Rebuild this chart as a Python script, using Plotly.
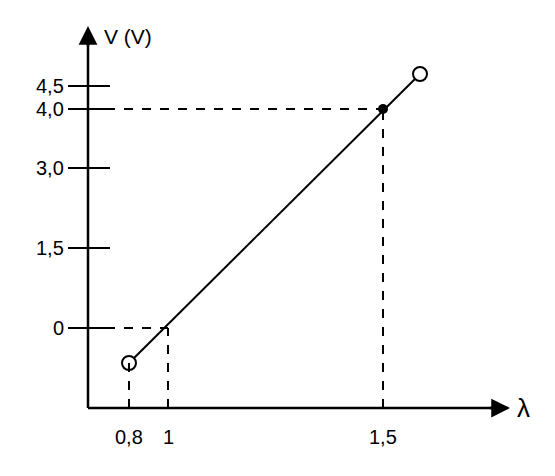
import plotly.graph_objects as go

# schematic positions (drawing units, origin at axes corner)
y_labels = ["0", "1,5", "3,0", "4,0", "4,5"]
y_pos = [80, 160, 240, 299, 322]
x_labels = ["0,8", "1", "1,5"]
x_pos = [41, 80, 295]

# line end points: open circles at ends, filled dot at (1,5 ; 4,0)
line_x = [41, 332]
line_y = [45, 334]
dot_x, dot_y = 295, 299

fig = go.Figure()
fig.add_trace(go.Scatter(x=line_x, y=line_y, mode="lines",
                         line=dict(color="black", width=2)))
fig.add_trace(go.Scatter(x=line_x, y=line_y, mode="markers",
                         marker=dict(color="white", size=14, line=dict(color="black", width=2))))
fig.add_trace(go.Scatter(x=[dot_x], y=[dot_y], mode="markers",
                         marker=dict(color="black", size=10)))

dash = dict(color="black", width=2, dash="dash")
shapes = [
    dict(type="line", x0=0, y0=80, x1=80, y1=80, line=dash),
    dict(type="line", x0=80, y0=0, x1=80, y1=80, line=dash),
    dict(type="line", x0=41, y0=0, x1=41, y1=45, line=dash),
    dict(type="line", x0=0, y0=dot_y, x1=dot_x, y1=dot_y, line=dash),
    dict(type="line", x0=dot_x, y0=0, x1=dot_x, y1=dot_y, line=dash),
    dict(type="line", x0=0, y0=0, x1=420, y1=0, line=dict(color="black", width=2.5)),
    dict(type="line", x0=0, y0=0, x1=0, y1=370, line=dict(color="black", width=2.5)),
]
for yp in y_pos:
    shapes.append(dict(type="line", x0=-20, y0=yp, x1=22, y1=yp, line=dict(color="black", width=2)))

ann = []
for lab, yp in zip(y_labels, y_pos):
    ann.append(dict(x=-22, y=yp, text=lab, showarrow=False, xanchor="right",
                    yanchor="middle", font=dict(size=20)))
for lab, xp in zip(x_labels, x_pos):
    ann.append(dict(x=xp, y=-16, text=lab, showarrow=False, yanchor="top",
                    font=dict(size=20)))
# axis arrows
ann.append(dict(x=422, y=0, ax=400, ay=0, axref="x", ayref="y", text="",
                showarrow=True, arrowhead=2, arrowsize=1.5, arrowwidth=2.5,
                arrowcolor="black"))
ann.append(dict(x=0, y=382, ax=0, ay=360, axref="x", ayref="y", text="",
                showarrow=True, arrowhead=2, arrowsize=1.5, arrowwidth=2.5,
                arrowcolor="black"))
ann.append(dict(x=14, y=372, text="V (V)", showarrow=False, xanchor="left",
                font=dict(size=21)))
ann.append(dict(x=427, y=0, text="λ", showarrow=False, xanchor="left",
                font=dict(size=26)))

fig.update_layout(
    width=555, height=476, showlegend=False,
    plot_bgcolor="white", paper_bgcolor="white",
    margin=dict(l=0, r=0, t=0, b=0),
    xaxis=dict(range=[-80, 475], visible=False),
    yaxis=dict(range=[-76, 400], visible=False),
    shapes=shapes, annotations=ann,
    font=dict(family="Liberation Sans", color="black"),
)
fig.write_html("out.html")
